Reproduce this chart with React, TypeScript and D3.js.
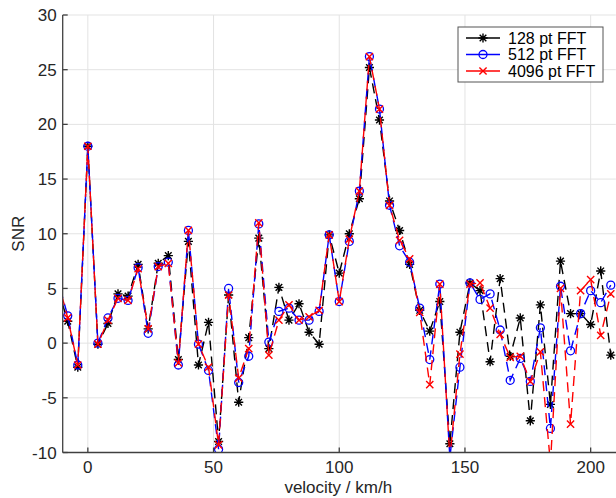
import React from "react";
import { scaleLinear, line } from "d3";

// velocity bins (km/h)
const velocity = [
  -12, -8, -4, 0, 4, 8, 12, 16, 20, 24, 28, 32, 36, 40, 44, 48, 52, 56, 60, 64,
  68, 72, 76, 80, 84, 88, 92, 96, 100, 104, 108, 112, 116, 120, 124, 128, 132,
  136, 140, 144, 148, 152, 156, 160, 164, 168, 172, 176, 180, 184, 188, 192,
  196, 200, 204, 208,
];

const snr128 = [
  5.0, 2.0, -2.2, 18.0, -0.1, 1.8, 4.5, 4.3, 7.2, 1.3, 7.3, 8.0, -1.5, 9.3,
  -2.0, 1.9, -9.0, 4.4, -5.4, 0.5, 9.6, -0.5, 5.1, 2.1, 3.6, 1.0, -0.1, 9.9,
  6.4, 10.0, 13.2, 25.2, 20.4, 13.0, 10.3, 7.2, 3.0, 1.1, 3.8, -9.2, 1.0, 5.5,
  4.8, -1.7, 5.9, -1.2, 2.3, -7.1, 3.5, -5.6, 7.5, 2.7, 2.7, 1.7, 6.6, -1.1,
];

const snr512 = [
  5.8, 2.5, -2.0, 18.0, 0.0, 2.3, 4.1, 3.9, 6.9, 0.9, 7.0, 7.4, -2.0, 10.3,
  -0.1, -2.5, -9.7, 5.0, -3.6, -1.2, 10.9, 0.1, 2.9, 3.2, 2.1, 2.1, 2.9, 9.9,
  3.8, 9.3, 13.9, 26.2, 21.4, 12.6, 8.9, 7.4, 3.2, -1.5, 5.4, -10.5, -2.2, 5.5,
  4.0, 4.5, 1.2, -3.4, -1.4, -3.5, 1.4, -7.8, 5.2, -0.7, 2.7, 4.8, 3.7, 5.3,
];

const snr4096 = [
  5.8, 2.3, -2.0, 18.0, -0.1, 2.1, 4.1, 3.9, 6.8, 1.3, 7.0, 7.3, -1.8, 10.3,
  -0.1, -2.2, -9.3, 4.4, -3.2, -0.5, 11.0, -1.1, 2.1, 3.5, 2.1, 2.4, 3.0, 9.9,
  3.8, 9.5, 13.9, 26.2, 21.4, 12.6, 9.4, 7.7, 2.8, -3.8, 5.4, -10.5, -1.0, 5.4,
  5.5, 3.2, 0.8, -1.3, -1.2, -3.5, -0.8, -11.0, 5.0, -7.4, 4.8, 5.8, 0.7, 4.5,
];

const seriesNames = ["128 pt FFT", "512 pt FFT", "4096 pt FFT"];
const xTicks = [0, 50, 100, 150, 200];
const yTicks = [-10, -5, 0, 5, 10, 15, 20, 25, 30];

const W = 616;
const H = 498;
const left = 62.7;
const right = 615.8;
const top = 15;
const bottom = 452.5;
const font = "'Liberation Sans', Arial, Helvetica, sans-serif";
const axisColor = "#404040";
const fs = 17;

const x = scaleLinear().domain([-10, 210]).range([left, right]);
const y = scaleLinear().domain([-10, 30]).range([bottom, top]);

type Kind = "star" | "circle" | "cross";

const Marker = ({ cx, cy, kind, color }: { cx: number; cy: number; kind: Kind; color: string }) => {
  if (kind === "circle") {
    return <circle cx={cx} cy={cy} r={4} fill="none" stroke={color} strokeWidth={1.3} />;
  }
  if (kind === "cross") {
    const s = 3.6;
    return (
      <path
        d={`M${cx - s},${cy - s}L${cx + s},${cy + s}M${cx - s},${cy + s}L${cx + s},${cy - s}`}
        stroke={color}
        strokeWidth={1.4}
      />
    );
  }
  const s = 4.6;
  const d = s * 0.72;
  return (
    <path
      d={`M${cx - s},${cy}L${cx + s},${cy}M${cx},${cy - s}L${cx},${cy + s}M${cx - d},${cy - d}L${cx + d},${cy + d}M${cx - d},${cy + d}L${cx + d},${cy - d}`}
      stroke={color}
      strokeWidth={1.4}
    />
  );
};

const series = [
  { name: seriesNames[0], values: snr128, color: "#000000", kind: "star" as Kind, offset: 0 },
  { name: seriesNames[1], values: snr512, color: "#0000ff", kind: "circle" as Kind, offset: 7 },
  { name: seriesNames[2], values: snr4096, color: "#ff0000", kind: "cross" as Kind, offset: 0 },
];

export default function App() {
  const lineGen = line<number>()
    .x((_, i) => x(velocity[i]))
    .y((d) => y(d));

  return (
    <div style={{ position: "absolute", left: 0, top: 0 }}>
      <svg width={W} height={H} style={{ display: "block", background: "#fff" }}>
        <defs>
          <clipPath id="plot">
            <rect x={left} y={top} width={right - left} height={bottom - top} />
          </clipPath>
        </defs>

        {/* grid */}
        {yTicks.map((t) => (
          <line key={"gy" + t} x1={left} x2={right} y1={y(t)} y2={y(t)} stroke="#e3e3e3" strokeWidth={1} />
        ))}
        {xTicks.map((t) => (
          <line key={"gx" + t} x1={x(t)} x2={x(t)} y1={top} y2={bottom} stroke="#e3e3e3" strokeWidth={1} />
        ))}

        {/* data */}
        <g clipPath="url(#plot)">
          {series.map((s) => (
            <g key={s.name}>
              <path
                d={lineGen(s.values) || ""}
                fill="none"
                stroke={s.color}
                strokeWidth={1.4}
                strokeDasharray="10,6"
                strokeDashoffset={s.offset}
              />
              {s.values.map((v, i) => (
                <Marker key={i} cx={x(velocity[i])} cy={y(v)} kind={s.kind} color={s.color} />
              ))}
            </g>
          ))}
        </g>

        {/* axes */}
        <line x1={left} x2={left} y1={top} y2={bottom} stroke={axisColor} strokeWidth={1.3} />
        <line x1={left} x2={W} y1={bottom} y2={bottom} stroke={axisColor} strokeWidth={1.3} />
        {yTicks.map((t) => (
          <g key={"ty" + t}>
            <line x1={left} x2={left + 5} y1={y(t)} y2={y(t)} stroke={axisColor} strokeWidth={1.3} />
            <text x={left - 6} y={y(t)} dy="0.36em" textAnchor="end" fontFamily={font} fontSize={fs} fill="#262626">
              {t}
            </text>
          </g>
        ))}
        {xTicks.map((t) => (
          <g key={"tx" + t}>
            <line x1={x(t)} x2={x(t)} y1={bottom} y2={bottom - 5} stroke={axisColor} strokeWidth={1.3} />
            <text x={x(t)} y={473} textAnchor="middle" fontFamily={font} fontSize={fs} fill="#262626">
              {t}
            </text>
          </g>
        ))}

        <text x={(left + right) / 2 - 1} y={493} textAnchor="middle" fontFamily={font} fontSize={fs} fill="#262626">
          velocity / km/h
        </text>
        <text
          transform={`translate(24,${(top + bottom) / 2}) rotate(-90)`}
          textAnchor="middle"
          fontFamily={font}
          fontSize={fs}
          fill="#262626"
        >
          SNR
        </text>

        {/* legend */}
        <g>
          <rect x={458} y={27} width={145} height={55} fill="#fff" stroke="#555" strokeWidth={1} />
          {series.map((s, i) => {
            const ly = 38 + i * 16.5;
            return (
              <g key={"lg" + s.name}>
                <line x1={466} x2={500} y1={ly} y2={ly} stroke={s.color} strokeWidth={1.4} />
                <Marker cx={483} cy={ly} kind={s.kind} color={s.color} />
                <text x={508} y={ly} dy="0.36em" fontFamily={font} fontSize={16} fill="#000">
                  {s.name}
                </text>
              </g>
            );
          })}
        </g>
      </svg>
    </div>
  );
}
